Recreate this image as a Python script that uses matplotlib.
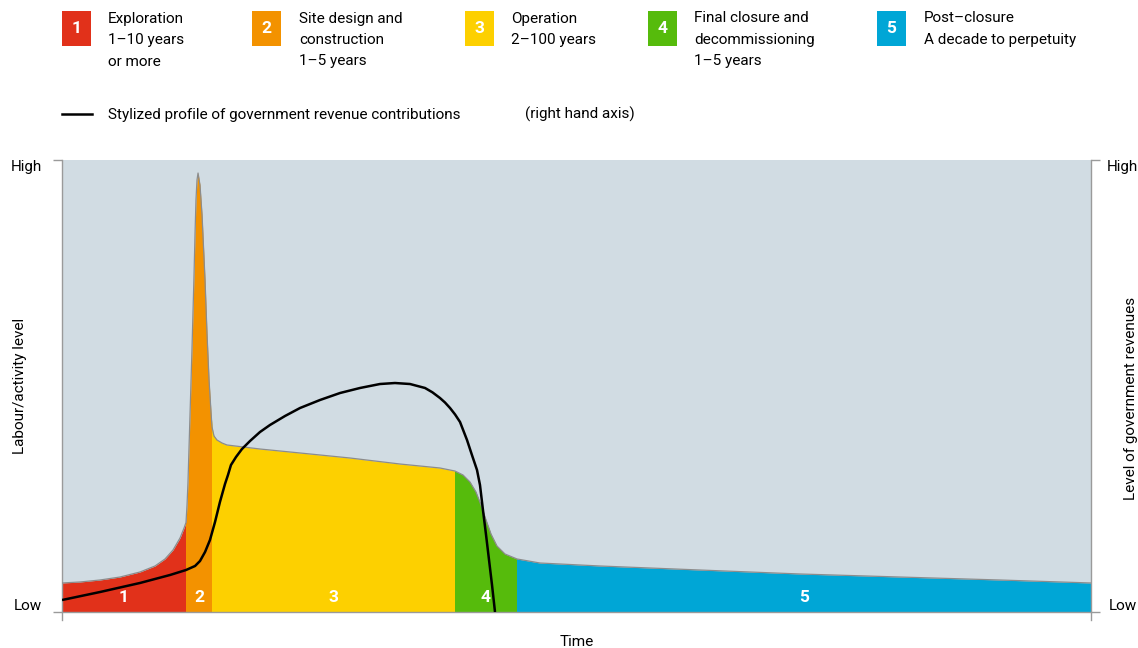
import matplotlib
matplotlib.use("Agg")
import matplotlib.pyplot as plt
from matplotlib.patches import Rectangle
from matplotlib.lines import Line2D

plt.rcParams['font.family'] = ['Roboto', 'DejaVu Sans']

# ---------------- data ----------------
phase_numbers = ["1", "2", "3", "4", "5"]
phase_colors = ["#E1311A", "#F39200", "#FDD000", "#56BB0C", "#00A6D6"]
phase_bounds = [0, 12.05, 14.58, 38.19, 44.22, 100]
phase_legend = [
    ["Exploration", "1\u201310 years", "or more"],
    ["Site design and", "construction", "1\u20135 years"],
    ["Operation", "2\u2013100 years"],
    ["Final closure and", "decommissioning", "1\u20135 years"],
    ["Post\u2013closure", "A decade to perpetuity"],
]

# labour / activity level (left axis, 0 = Low, 100 = High)
activity_x = [0, 1.75, 3.69, 5.64, 7.58, 9.04, 10.01, 10.79, 11.47, 11.86,
              12.05, 12.15, 12.24, 12.44, 12.63, 12.83, 12.93, 13.02, 13.12, 13.22,
              13.41, 13.61, 13.90, 14.09, 14.29, 14.48, 14.58, 14.77, 15.06, 15.55,
              16.03, 19.24, 23.13, 27.99, 32.85, 36.73, 38.19, 38.97, 39.65, 40.23,
              40.72, 41.21, 41.69, 42.27, 43.05, 44.22, 46.45, 52.28, 62.00, 71.72,
              81.44, 91.16, 100]
activity_y = [6.42, 6.64, 7.08, 7.74, 8.85, 10.18, 11.73, 13.72, 16.37, 18.58,
              19.8, 23.67, 28.54, 43.58, 57.96, 74.56, 83.85, 91.15, 95.58, 97.12,
              94.47, 87.83, 73.45, 61.73, 51.33, 44.25, 40.93, 38.94, 38.05, 37.39,
              36.95, 36.06, 35.18, 34.07, 32.74, 31.86, 31.19, 30.31, 28.76, 26.55,
              23.67, 20.35, 17.26, 14.60, 12.83, 11.73, 10.84, 10.18, 9.29, 8.41,
              7.74, 7.08, 6.42]

# government revenue profile (right axis, 0 = Low, 100 = High)
revenue_x = [0, 3.69, 7.58, 10.50, 12.05, 12.93, 13.41, 13.90, 14.38, 14.87,
             15.35, 15.84, 16.13, 16.42, 16.91, 17.49, 18.27, 19.24, 20.21, 21.67,
             23.13, 25.07, 27.02, 28.96, 30.90, 32.36, 33.82, 35.28, 36.00, 36.73,
             37.22, 37.71, 38.20, 38.68, 39.36, 39.84, 40.33, 40.62, 40.91, 41.21,
             41.50, 41.79, 42.08]
revenue_y = [2.65, 4.42, 6.42, 8.19, 9.29, 10.18, 11.28, 13.27, 15.93, 19.91,
             24.34, 28.32, 30.31, 32.52, 34.29, 36.06, 37.83, 39.82, 41.37, 43.36,
             45.13, 46.90, 48.45, 49.56, 50.44, 50.66, 50.44, 49.56, 48.60, 47.35,
             46.35, 45.13, 43.70, 42.04, 38.05, 34.73, 31.42, 28.10, 22.57, 17.04,
             11.50, 5.97, 0]

# ---------------- figure ----------------
W, H = 1138, 648
fig = plt.figure(figsize=(W / 100, H / 100), dpi=100)

def fx(px):
    return px / W

def fy(py):
    return 1 - py / H

ax_l, ax_r, ax_t, ax_b = 62, 1091, 160, 612
ax = fig.add_axes([fx(ax_l), fy(ax_b), (ax_r - ax_l) / W, (ax_b - ax_t) / H])
ax.set_xlim(0, 100)
ax.set_ylim(0, 100)
ax.set_facecolor("#D1DCE3")

# phase fills clipped to their time bands
for i, col in enumerate(phase_colors):
    poly = ax.fill_between(activity_x, 0, activity_y, color=col, lw=0, zorder=2)
    clip = Rectangle((phase_bounds[i], 0), phase_bounds[i + 1] - phase_bounds[i], 100,
                     transform=ax.transData, facecolor="none", edgecolor="none")
    ax.add_patch(clip)
    poly.set_clip_path(clip)
    ax.text((phase_bounds[i] + phase_bounds[i + 1]) / 2, 3.1, phase_numbers[i],
            color="white", fontsize=12.5, fontweight="bold", ha="center", va="center",
            zorder=4)

ax.plot(activity_x, activity_y, color="#8C8C8C", lw=0.9, zorder=3,
        solid_joinstyle="round")
ax.plot(revenue_x, revenue_y, color="black", lw=1.8, zorder=5,
        solid_joinstyle="round", solid_capstyle="butt")

# spines / ticks
spine_col = "#9A9A9A"
ax.spines["top"].set_visible(False)
for s in ["left", "right", "bottom"]:
    ax.spines[s].set_color(spine_col)
    ax.spines[s].set_linewidth(1.0)
ax.spines["left"].set_bounds(-1.8, 100)
ax.spines["right"].set_bounds(-1.8, 100)
ax.set_xticks([])
ax.set_yticks([0, 100])
ax.tick_params(axis="y", which="both", left=True, right=True, labelleft=False,
               labelright=False, direction="out", length=6.5, width=1.0,
               color=spine_col)

fs = 11
fig.text(fx(42), fy(167), "High", ha="right", va="center", fontsize=fs)
fig.text(fx(42), fy(606), "Low", ha="right", va="center", fontsize=fs)
fig.text(fx(1107), fy(167), "High", ha="left", va="center", fontsize=fs)
fig.text(fx(1109), fy(606), "Low", ha="left", va="center", fontsize=fs)
fig.text(fx(20), fy(386), "Labour/activity level", rotation=90, ha="center",
         va="center", fontsize=fs)
fig.text(fx(1131), fy(398), "Level of government revenues", rotation=90,
         ha="center", va="center", fontsize=fs)
fig.text(fx(577), fy(642), "Time", ha="center", va="center", fontsize=fs)

# legend
sq_x = [62, 252, 465, 648, 877]
txt_x = [108, 299, 511, 694, 924]
line_y = [18.5, 40, 61.5]
for i in range(5):
    fig.patches.append(Rectangle((fx(sq_x[i]), fy(46)), 29 / W, 35 / H,
                                 transform=fig.transFigure, facecolor=phase_colors[i],
                                 edgecolor="none"))
    fig.text(fx(sq_x[i] + 14.5), fy(28.5), phase_numbers[i], color="white",
             fontsize=12.5, fontweight="bold", ha="center", va="center")
    for j, line in enumerate(phase_legend[i]):
        fig.text(fx(txt_x[i]), fy(line_y[j]), line, ha="left", va="center", fontsize=fs)

fig.lines.append(Line2D([fx(62), fx(92)], [fy(114), fy(114)], transform=fig.transFigure,
                        color="black", lw=1.8))
fig.text(fx(108), fy(114.5), "Stylized profile of government revenue contributions",
         ha="left", va="center", fontsize=fs)
fig.text(fx(525), fy(114.5), "(right hand axis)", ha="left", va="center", fontsize=fs)

fig.savefig("out.png", dpi=100)
